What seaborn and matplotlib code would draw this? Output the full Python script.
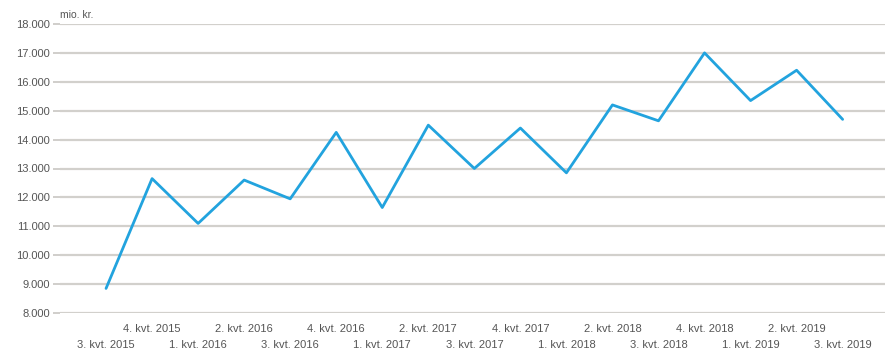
import matplotlib
matplotlib.use("Agg")
import matplotlib.pyplot as plt
import seaborn as sns
import pandas as pd

quarters = ["3. kvt. 2015", "4. kvt. 2015", "1. kvt. 2016", "2. kvt. 2016", "3. kvt. 2016",
            "4. kvt. 2016", "1. kvt. 2017", "2. kvt. 2017", "3. kvt. 2017", "4. kvt. 2017",
            "1. kvt. 2018", "2. kvt. 2018", "3. kvt. 2018", "4. kvt. 2018", "1. kvt. 2019",
            "2. kvt. 2019", "3. kvt. 2019"]
values = [8850, 12650, 11100, 12600, 11950, 14250, 11650, 14500, 13000, 14400,
          12850, 15200, 14650, 17000, 15350, 16400, 14700]
yticks = [8000, 9000, 10000, 11000, 12000, 13000, 14000, 15000, 16000, 17000, 18000]
ytick_labels = ["8.000", "9.000", "10.000", "11.000", "12.000", "13.000", "14.000",
                "15.000", "16.000", "17.000", "18.000"]

sns.set_style("white")
plt.rcParams['font.family'] = ['Liberation Sans', 'DejaVu Sans']

df = pd.DataFrame({"pos": range(len(quarters)), "value": values})

fig = plt.figure(figsize=(8.87, 3.49), dpi=100)
ax = fig.add_axes([60/887, 36/349, 825/887, 289/349])

for yt in yticks:
    ax.axhline(yt, color="#d2d0cc", lw=1.6, zorder=0)

sns.lineplot(data=df, x="pos", y="value", ax=ax, color="#22a3de", lw=2.0)

ax.set_xlim(-1, 16.92)
ax.set_ylim(8000, 18000)
ax.set_yticks(yticks)
ax.set_yticklabels(ytick_labels, fontsize=8, color="#555555")
ax.tick_params(axis="y", length=5, width=1.2, color="#c8c6c2", pad=2, left=True)
ax.set_xticks([])
ax.set_xlabel("")
ax.set_ylabel("")
for s in ax.spines.values():
    s.set_visible(False)

for i, q in enumerate(quarters):
    y = -0.038 if i % 2 == 1 else -0.095
    ax.text(i, y, q, transform=ax.get_xaxis_transform(), ha="center", va="top",
            fontsize=8, color="#555555")

ax.text(0.0, 1.015, "mio. kr.", transform=ax.transAxes, ha="left", va="bottom",
        fontsize=7.5, color="#555555")

fig.savefig("out.png", dpi=100)
